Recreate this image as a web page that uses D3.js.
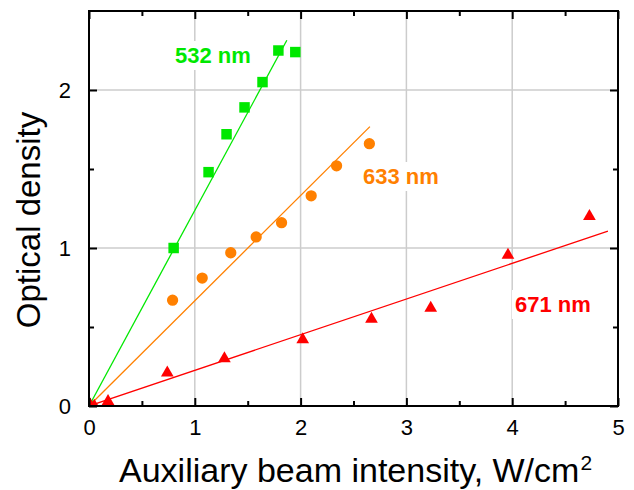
<!DOCTYPE html>
<html>
<head>
<meta charset="utf-8">
<script src="https://cdn.jsdelivr.net/npm/d3@7"></script>
<style>
  html, body { margin: 0; padding: 0; background: #fff; }
  svg { display: block; font-family: "Liberation Sans", Arial, sans-serif; }
</style>
</head>
<body>
<svg id="chart" width="634" height="490"></svg>
<script>
// Measured optical density vs auxiliary beam intensity (W/cm^2)
const green532X = [0, 0.80, 1.13, 1.30, 1.47, 1.64, 1.79, 1.95];
const green532Y = [0, 1.00, 1.48, 1.72, 1.89, 2.05, 2.25, 2.24];
const orange633X = [0, 0.79, 1.07, 1.34, 1.58, 1.82, 2.10, 2.34, 2.65];
const orange633Y = [0, 0.67, 0.81, 0.97, 1.07, 1.16, 1.33, 1.52, 1.66];
const red671X = [0, 0.05, 0.18, 0.74, 1.28, 2.02, 2.67, 3.23, 3.96, 4.73];
const red671Y = [0.02, 0.00, 0.03, 0.21, 0.30, 0.42, 0.55, 0.62, 0.955, 1.20];

// Linear fits through the origin: [x, y] end points
const green532Fit = [[0, 0], [1.87, 2.315]];
const orange633Fit = [[0, 0], [2.655, 1.768]];
const red671Fit = [[0, 0], [4.905, 1.107]];

const xTicks = [0, 1, 2, 3, 4, 5];
const yTicks = [0, 1, 2];
const xMinorTicks = [0.5, 1.5, 2.5, 3.5, 4.5];
const yMinorTicks = [0.5, 1.5];
const xGrid = [1, 2, 3, 4];
const yGrid = [1, 2];

const seriesNames = ["532 nm", "633 nm", "671 nm"];
const seriesColors = ["#00e800", "#ff8000", "#ff0000"];
const seriesLabelPos = [[175, 63], [363, 184], [515, 312]];

(function () {
const margin = { top: 11, right: 16, bottom: 84, left: 89 };
const W = 634, H = 490;
const iw = W - margin.left - margin.right;
const ih = H - margin.top - margin.bottom;

const svg = d3.select("#chart");
const g = svg.append("g").attr("transform", `translate(${margin.left},${margin.top})`);

const x = d3.scaleLinear().domain([0, 5]).range([0, iw]);
const y = d3.scaleLinear().domain([0, 2.5]).range([ih, 0]);

g.append("clipPath").attr("id", "plotClip")
  .append("rect").attr("width", iw).attr("height", ih);

// Grid
g.append("g").selectAll("line").data(xGrid).join("line")
  .attr("x1", d => x(d)).attr("x2", d => x(d))
  .attr("y1", 0).attr("y2", ih)
  .attr("stroke", "#cccccc").attr("stroke-width", 1.5);
g.append("g").selectAll("line").data(yGrid).join("line")
  .attr("y1", d => y(d)).attr("y2", d => y(d))
  .attr("x1", 0).attr("x2", iw)
  .attr("stroke", "#cccccc").attr("stroke-width", 1.5);

// Series labels with white boxes
const labels = svg.append("g");
seriesNames.forEach((name, i) => {
  const lg = labels.append("g");
  const t = lg.append("text")
    .attr("x", seriesLabelPos[i][0]).attr("y", seriesLabelPos[i][1])
    .attr("font-size", 22).attr("font-weight", "bold")
    .attr("fill", seriesColors[i]).text(name);
  const bb = t.node().getBBox();
  lg.insert("rect", "text")
    .attr("x", bb.x - 3).attr("y", bb.y - 2)
    .attr("width", bb.width + 6).attr("height", bb.height + 4)
    .attr("fill", "#fff");
});

// Fit lines
const line = d3.line().x(d => x(d[0])).y(d => y(d[1]));
const fits = [green532Fit, orange633Fit, red671Fit];
const plot = g.append("g").attr("clip-path", "url(#plotClip)");
fits.forEach((f, i) => {
  plot.append("path").attr("d", line(f))
    .attr("fill", "none").attr("stroke", seriesColors[i]).attr("stroke-width", 1.3);
});

// Markers
const toPts = (xs, ys) => xs.map((v, i) => [v, ys[i]]);
plot.append("g").selectAll("path").data(toPts(green532X, green532Y)).join("path")
  .attr("d", d3.symbol(d3.symbolSquare, 110))
  .attr("transform", d => `translate(${x(d[0])},${y(d[1])})`)
  .attr("fill", seriesColors[0]);
plot.append("g").selectAll("path").data(toPts(orange633X, orange633Y)).join("path")
  .attr("d", d3.symbol(d3.symbolCircle, 100))
  .attr("transform", d => `translate(${x(d[0])},${y(d[1])})`)
  .attr("fill", seriesColors[1]);
plot.append("g").selectAll("path").data(toPts(red671X, red671Y)).join("path")
  .attr("d", d3.symbol(d3.symbolTriangle, 70))
  .attr("transform", d => `translate(${x(d[0])},${y(d[1])})`)
  .attr("fill", seriesColors[2]);

// Axes: ticks inward on all four sides
function styleAxis(sel) {
  sel.select(".domain").remove();
  sel.selectAll("line").attr("stroke", "#000").attr("stroke-width", 2);
  sel.selectAll("text").attr("font-size", 22).attr("fill", "#000")
    .attr("font-family", "Liberation Sans, Arial, sans-serif");
}
function addAxis(axis, tx, ty) {
  const a = g.append("g").attr("transform", `translate(${tx},${ty})`).call(axis);
  styleAxis(a);
}
addAxis(d3.axisBottom(x).tickValues(xTicks).tickFormat(d3.format("d")).tickSizeInner(-8).tickPadding(13), 0, ih);
addAxis(d3.axisBottom(x).tickValues(xMinorTicks).tickFormat("").tickSizeInner(-5), 0, ih);
addAxis(d3.axisTop(x).tickValues(xTicks).tickFormat("").tickSizeInner(-8), 0, 0);
addAxis(d3.axisTop(x).tickValues(xMinorTicks).tickFormat("").tickSizeInner(-5), 0, 0);
addAxis(d3.axisLeft(y).tickValues(yTicks).tickFormat(d3.format("d")).tickSizeInner(-8).tickPadding(18), 0, 0);
addAxis(d3.axisLeft(y).tickValues(yMinorTicks).tickFormat("").tickSizeInner(-5), 0, 0);
addAxis(d3.axisRight(y).tickValues(yTicks).tickFormat("").tickSizeInner(-8), iw, 0);
addAxis(d3.axisRight(y).tickValues(yMinorTicks).tickFormat("").tickSizeInner(-5), iw, 0);

// Frame
g.append("rect").attr("width", iw).attr("height", ih)
  .attr("fill", "none").attr("stroke", "#000").attr("stroke-width", 2);

// Axis titles
const xTitle = svg.append("text")
  .attr("x", 119).attr("y", 482)
  .attr("text-anchor", "start").attr("font-size", 34).attr("fill", "#000");
xTitle.append("tspan").text("Auxiliary beam intensity, W/cm");
xTitle.append("tspan").attr("font-size", 21).attr("dy", -12).attr("dx", 1).text("2");

svg.append("text")
  .attr("transform", `translate(40,220) rotate(-90)`)
  .attr("text-anchor", "middle").attr("font-size", 33).attr("fill", "#000")
  .text("Optical density");
})();
</script>
</body>
</html>
